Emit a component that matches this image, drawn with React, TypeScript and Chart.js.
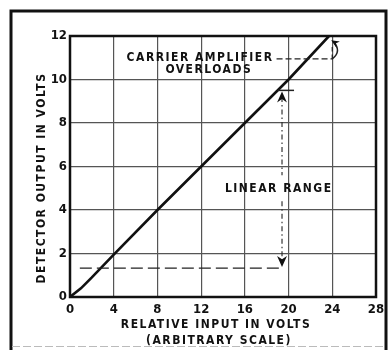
import React, { useEffect, useRef } from "react";
import { Chart, registerables } from "chart.js";

Chart.register(...registerables);

const inputVolts = [0, 1, 2, 4, 8, 12, 16, 20, 23.7];
const outputVolts = [0, 0.4, 0.9, 1.95, 4, 6, 8, 10, 12];
const xTickValues = [0, 4, 8, 12, 16, 20, 24, 28];
const yTickValues = [0, 2, 4, 6, 8, 10, 12];
const xTitle = "RELATIVE INPUT IN VOLTS";
const xSubtitle = "(ARBITRARY SCALE)";
const yTitle = "DETECTOR OUTPUT IN VOLTS";
const overloadLines = ["CARRIER AMPLIFIER", "OVERLOADS"];
const linearLabel = "LINEAR RANGE";

const FONT = '"DejaVu Sans Condensed", "DejaVu Sans", sans-serif';

function arrowHead(ctx: CanvasRenderingContext2D, x: number, y: number, angle: number, size = 7) {
  ctx.save();
  ctx.translate(x, y);
  ctx.rotate(angle);
  ctx.beginPath();
  ctx.moveTo(0, 0);
  ctx.lineTo(-size, -size * 0.45);
  ctx.lineTo(-size * 0.7, 0);
  ctx.lineTo(-size, size * 0.45);
  ctx.closePath();
  ctx.fill();
  ctx.restore();
}

const decorPlugin = {
  id: "decor",
  afterDraw(chart: any) {
    const ctx: CanvasRenderingContext2D = chart.ctx;
    const xs = chart.scales.x;
    const ys = chart.scales.y;
    const px = (v: number) => xs.getPixelForValue(v);
    const py = (v: number) => ys.getPixelForValue(v);
    const area = chart.chartArea;
    ctx.save();
    // outer frame
    ctx.strokeStyle = "#111";
    ctx.lineWidth = 3;
    ctx.beginPath();
    ctx.moveTo(11, 350);
    ctx.lineTo(11, 11);
    ctx.lineTo(386, 11);
    ctx.lineTo(386, 350);
    ctx.stroke();
    ctx.strokeStyle = "#bbb";
    ctx.lineWidth = 1;
    ctx.setLineDash([8, 3]);
    ctx.beginPath();
    ctx.moveTo(12, 346.5);
    ctx.lineTo(385, 346.5);
    ctx.stroke();
    ctx.setLineDash([]);
    // plot border
    ctx.strokeStyle = "#111";
    ctx.lineWidth = 2.5;
    ctx.strokeRect(area.left, area.top, area.right - area.left, area.bottom - area.top);

    ctx.fillStyle = "#111";
    (ctx as any).letterSpacing = "1.5px";
    ctx.font = `bold 12px ${FONT}`;
    ctx.textAlign = "center";
    ctx.textBaseline = "middle";
    // axis titles
    ctx.fillText(xTitle, 216, 325);
    ctx.fillText(xSubtitle, 219, 341);
    ctx.save();
    ctx.translate(42, 178);
    ctx.rotate(-Math.PI / 2);
    ctx.fillText(yTitle, 0, 0);
    ctx.restore();

    // overload annotation
    ctx.fillText(overloadLines[0], px(11.9), py(11.0));
    ctx.fillText(overloadLines[1], px(12.7), py(10.45));
    // linear range label
    ctx.fillText(linearLabel, px(19.1), py(4.97));

    (ctx as any).letterSpacing = "0px";
    ctx.strokeStyle = "#222";
    ctx.lineWidth = 1.3;
    // overload leader
    ctx.setLineDash([6, 3]);
    ctx.beginPath();
    ctx.moveTo(px(18.9), py(10.95));
    ctx.lineTo(px(24.0), py(10.95));
    ctx.lineTo(px(24.0), py(11.5));
    ctx.stroke();
    ctx.setLineDash([]);
    ctx.lineWidth = 1.6;
    ctx.beginPath();
    ctx.moveTo(px(24.0), py(10.95));
    ctx.quadraticCurveTo(px(24.9), py(11.3), px(24.1), py(11.75));
    ctx.stroke();
    arrowHead(ctx, px(23.9), py(11.8), -2.6, 8);

    // linear range vertical
    const vx = px(19.4);
    ctx.lineWidth = 1.1;
    ctx.setLineDash([5, 3, 1.5, 3]);
    ctx.beginPath();
    ctx.moveTo(vx, py(9.2));
    ctx.lineTo(vx, py(5.6));
    ctx.moveTo(vx, py(4.4));
    ctx.lineTo(vx, py(1.6));
    ctx.stroke();
    // bottom dashed horizontal
    ctx.setLineDash([12, 5]);
    ctx.lineWidth = 1.3;
    ctx.beginPath();
    ctx.moveTo(px(0.9), py(1.33));
    ctx.lineTo(vx, py(1.33));
    ctx.stroke();
    ctx.setLineDash([]);
    // top solid tick
    ctx.lineWidth = 1.5;
    ctx.beginPath();
    ctx.moveTo(px(19.0), py(9.5));
    ctx.lineTo(px(20.5), py(9.5));
    ctx.stroke();
    arrowHead(ctx, vx, py(9.5) + 1, -Math.PI / 2, 11);
    arrowHead(ctx, vx, py(1.33) - 1, Math.PI / 2, 11);
    ctx.restore();
  },
};

export default function App() {
  const ref = useRef<HTMLCanvasElement>(null);
  useEffect(() => {
    if (!ref.current) return;
    const chart = new Chart(ref.current, {
      type: "scatter",
      data: {
        datasets: [
          {
            data: inputVolts.map((x, i) => ({ x, y: outputVolts[i] })),
            showLine: true,
            borderColor: "#111",
            borderWidth: 2.6,
            pointRadius: 0,
            tension: 0,
          },
        ],
      },
      options: {
        animation: false,
        responsive: false,
        events: [],
        layout: { padding: { left: 0, top: 36, right: 14, bottom: 0 } },
        plugins: { legend: { display: false }, tooltip: { enabled: false } },
        scales: {
          x: {
            type: "linear",
            min: 0,
            max: 28,
            afterBuildTicks: (s: any) => {
              s.ticks = xTickValues.map((v) => ({ value: v }));
            },
            afterFit: (s: any) => {
              s.height = 53;
            },
            grid: { color: "#555", lineWidth: 1.2, drawTicks: false },
            border: { display: false },
            ticks: {
              padding: 5,
              color: "#111",
              font: { family: FONT, size: 13, weight: "bold" },
              maxRotation: 0,
            },
          },
          y: {
            type: "linear",
            min: 0,
            max: 12,
            afterBuildTicks: (s: any) => {
              s.ticks = yTickValues.map((v) => ({ value: v }));
            },
            afterFit: (s: any) => {
              s.width = 70;
            },
            grid: { color: "#555", lineWidth: 1.2, drawTicks: false },
            border: { display: false },
            ticks: {
              padding: 3,
              color: "#111",
              font: { family: FONT, size: 13, weight: "bold" },
            },
          },
        },
      },
      plugins: [decorPlugin],
    });
    return () => chart.destroy();
  }, []);
  return (
    <div style={{ position: "fixed", left: 0, top: 0, width: 390, height: 350, background: "#fff" }}>
      <canvas ref={ref} width={390} height={350} style={{ display: "block" }} />
    </div>
  );
}
